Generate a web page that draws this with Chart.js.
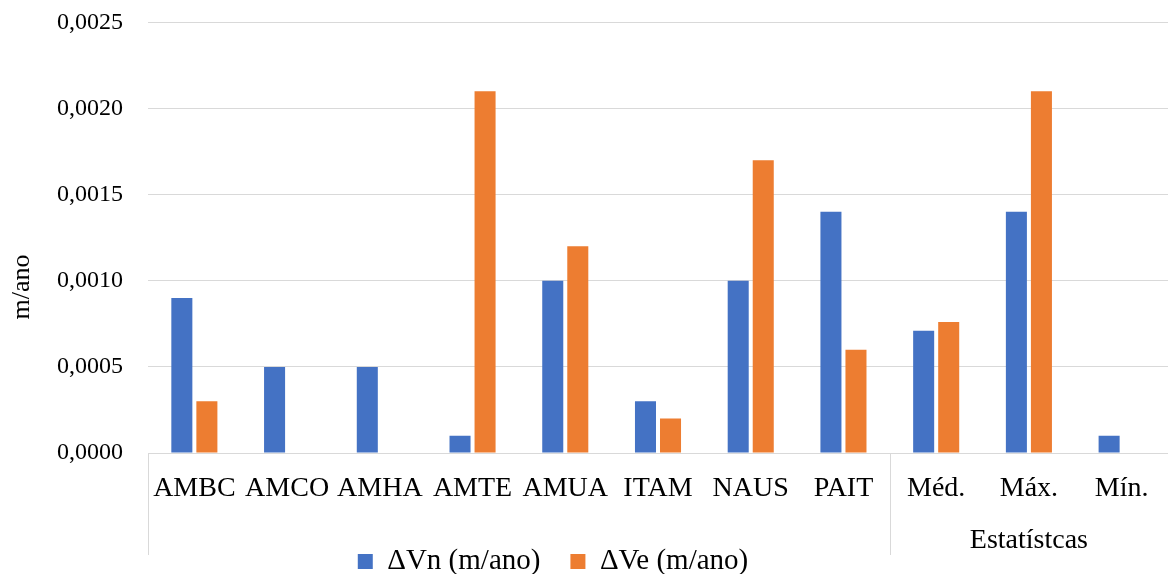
<!DOCTYPE html>
<html>
<head>
<meta charset="utf-8">
<script src="https://cdn.jsdelivr.net/npm/chart.js@4"></script>
<style>
  html, body { margin: 0; padding: 0; background: #fff; }
  #wrap { width: 1168px; height: 574px; }
</style>
</head>
<body>
<div id="wrap"><canvas id="grafico"></canvas></div>
<script>
/* Estações e estatísticas */
const categorias = ["AMBC", "AMCO", "AMHA", "AMTE", "AMUA", "ITAM", "NAUS", "PAIT", "Méd.", "Máx.", "Mín."];
// Rótulo do grupo das últimas três colunas
const grupoEstatisticas = "Estatístcas";
const inicioGrupo = 8;

/* Valores em m/ano */
const deltaVn = [0.0009, 0.0005, 0.0005, 0.0001, 0.0010, 0.0003, 0.0010, 0.0014, 0.00071, 0.0014, 0.0001];
const deltaVe = [0.0003, 0, 0, 0.0021, 0.0012, 0.0002, 0.0017, 0.0006, 0.00076, 0.0021, 0];

/* Eixo y */
const yMin = 0;
const yMax = 0.0025;
const yPasso = 0.0005;
const tituloY = "m/ano";

const fonte = "'Liberation Serif', 'Times New Roman', serif";
const corGrade = "#d9d9d9";

/* Desenha o título do eixo y, as linhas separadoras e o rótulo do grupo */
const grupoPlugin = {
    id: "grupoPlugin",
    afterLayout(chart) {
        // Ajusta a posição da legenda, como no original
        const lg = chart.legend;
        lg.right -= 62;
        lg.top += 12;
        lg.bottom += 12;
    },
    afterDraw(chart) {
        const ctx = chart.ctx;
        const x = chart.scales.x;
        const passo = x.getPixelForValue(1) - x.getPixelForValue(0);
        const fim = 555;
        const limites = [
            x.getPixelForValue(0) - passo / 2,
            x.getPixelForValue(inicioGrupo) - passo / 2,
            x.getPixelForValue(categorias.length - 1) + passo / 2
        ];
        ctx.save();
        ctx.strokeStyle = corGrade;
        ctx.lineWidth = 1;
        limites.forEach((px) => {
            const xx = Math.round(px) + 0.5;
            ctx.beginPath();
            ctx.moveTo(xx, x.top);
            ctx.lineTo(xx, fim);
            ctx.stroke();
        });
        // Rótulo "Estatístcas" centrado sob Méd., Máx., Mín.
        const centro = (x.getPixelForValue(inicioGrupo) + x.getPixelForValue(categorias.length - 1)) / 2;
        ctx.fillStyle = "#000";
        ctx.font = "28px " + fonte;
        ctx.textAlign = "center";
        ctx.textBaseline = "middle";
        ctx.fillText(grupoEstatisticas, centro, 541);
        // Título do eixo y, girado, centrado na altura do gráfico
        ctx.translate(22, chart.height / 2);
        ctx.rotate(-Math.PI / 2);
        ctx.font = "26px " + fonte;
        ctx.fillText(tituloY, 0, 0);
        ctx.restore();
    }
};

new Chart(document.getElementById("grafico").getContext("2d"), {
    type: "bar",
    data: {
        labels: categorias,
        datasets: [
            {
                label: "ΔVn (m/ano)",
                data: deltaVn,
                backgroundColor: "#4472C4",
                categoryPercentage: 0.54,
                barPercentage: 0.84
            },
            {
                label: "ΔVe (m/ano)",
                data: deltaVe,
                backgroundColor: "#ED7D31",
                categoryPercentage: 0.54,
                barPercentage: 0.84
            }
        ]
    },
    options: {
        responsive: true,
        maintainAspectRatio: false,
        animation: false,
        layout: { padding: 0 },
        plugins: {
            tooltip: { enabled: false },
            legend: {
                position: "bottom",
                labels: {
                    font: { family: fonte, size: 29 },
                    color: "#000",
                    boxWidth: 15,
                    boxHeight: 15,
                    padding: 30
                }
            }
        },
        scales: {
            x: {
                grid: { display: false, drawTicks: false },
                border: { display: true, color: corGrade },
                ticks: {
                    font: { family: fonte, size: 28 },
                    color: "#000",
                    padding: 19,
                    maxRotation: 0,
                    autoSkip: false
                },
                afterFit(scale) {
                    scale.height = 52;
                }
            },
            y: {
                min: yMin,
                max: yMax,
                grid: { color: corGrade, drawTicks: true, tickLength: 17, tickColor: "rgba(0,0,0,0)" },
                border: { display: false },
                ticks: {
                    stepSize: yPasso,
                    font: { family: fonte, size: 24 },
                    color: "#000",
                    padding: 8,
                    callback: (v) => v.toFixed(4).replace(".", ",")
                },
                afterFit(scale) {
                    scale.width = 148;
                }
            }
        }
    },
    plugins: [grupoPlugin]
});
</script>
</body>
</html>
